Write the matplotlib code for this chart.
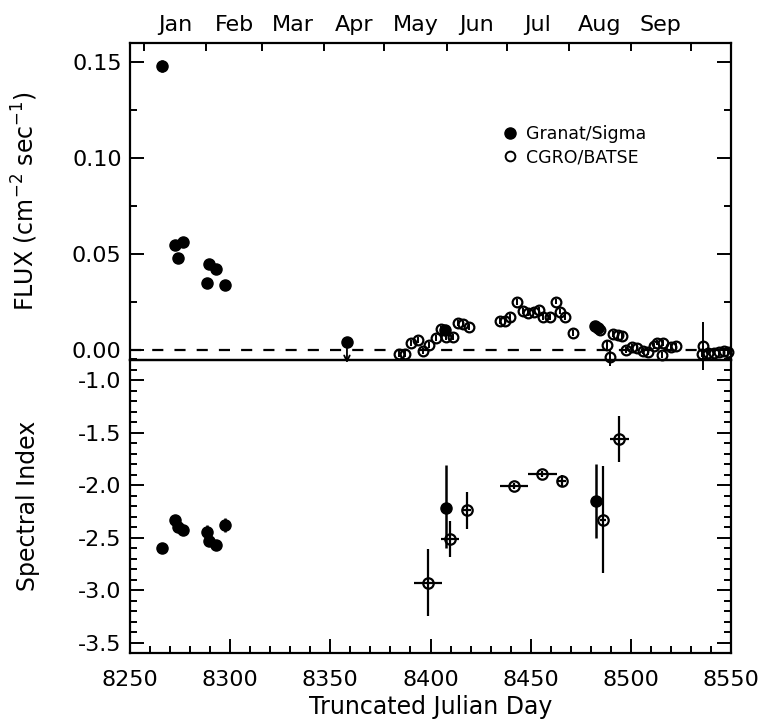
import matplotlib
matplotlib.use("Agg")
import matplotlib.pyplot as plt
from matplotlib.lines import Line2D
from matplotlib.ticker import (MultipleLocator, FormatStrFormatter, FixedLocator,
                               FixedFormatter, NullFormatter)

# ---------------- data ----------------
# Granat/Sigma flux (top panel)
granat_flux_day = [8265.8, 8272.5, 8273.8, 8276.6, 8288.3, 8289.6, 8292.8, 8297.4, 8407.0, 8482.3, 8483.6]
granat_flux = [0.148, 0.0547, 0.0478, 0.0561, 0.0350, 0.0448, 0.0422, 0.0339, 0.0105, 0.0125, 0.0113]
granat_flux_err = [0.003, 0.0015, 0.0015, 0.0015, 0.0015, 0.0015, 0.0015, 0.0015, 0.001, 0.001, 0.001]

# Granat upper limit (April)
ul_day = [8358.3]
ul_flux = [0.0042]

# CGRO/BATSE flux (top panel)
batse_flux_day = [8384.5, 8387.3, 8390.1, 8393.6, 8396.4, 8399.4, 8402.8, 8405.3, 8407.8, 8411.1,
                  8413.9, 8416.4, 8419.2, 8434.7, 8437.2, 8439.7, 8443.1, 8446.0, 8448.8, 8451.7,
                  8454.3, 8456.3, 8459.7, 8462.5, 8464.7, 8467.2, 8471.1, 8484.6, 8488.0, 8489.6,
                  8491.0, 8493.8, 8495.4, 8497.6, 8500.4, 8503.2, 8505.9, 8508.7, 8511.6, 8513.2,
                  8515.4, 8515.9, 8519.9, 8522.6, 8535.4, 8535.9, 8538.7, 8541.3, 8543.8, 8546.3,
                  8548.4]
batse_flux = [-0.0023, -0.0023, 0.0035, 0.0052, -0.0004, 0.0026, 0.0061, 0.0108, 0.0069, 0.0069,
              0.0142, 0.0135, 0.0121, 0.0151, 0.0151, 0.0174, 0.0248, 0.0203, 0.0191, 0.0200,
              0.0208, 0.0170, 0.0170, 0.0252, 0.0200, 0.0170, 0.0090, 0.0104, 0.0026, -0.0038,
              0.0083, 0.0078, 0.0073, 0.0000, 0.0014, 0.0009, -0.0005, -0.0009, 0.0021, 0.0038,
              -0.0026, 0.0035, 0.0014, 0.0021, -0.0022, 0.0021, -0.0014, -0.0014, -0.0009, -0.0004,
              -0.0009]
batse_flux_err = [0.0015, 0.0015, 0.0015, 0.0015, 0.0015, 0.0015, 0.0015, 0.0015, 0.0015, 0.0015,
                  0.0015, 0.0015, 0.0015, 0.0015, 0.0015, 0.0015, 0.0015, 0.0015, 0.0015, 0.0015,
                  0.0015, 0.0015, 0.0015, 0.0015, 0.0015, 0.0015, 0.0015, 0.0015, 0.0020, 0.0045,
                  0.0015, 0.0015, 0.0015, 0.0015, 0.0015, 0.0015, 0.0015, 0.0015, 0.0015, 0.0015,
                  0.0015, 0.0015, 0.0015, 0.0015, 0.0015, 0.0125, 0.0015, 0.0015, 0.0015, 0.0015,
                  0.0015]

# Granat/Sigma spectral index (bottom panel)
granat_idx_day = [8265.8, 8272.5, 8273.8, 8276.6, 8288.3, 8289.6, 8292.8, 8297.4, 8407.6, 8482.5]
granat_idx = [-2.60, -2.33, -2.40, -2.43, -2.45, -2.53, -2.57, -2.38, -2.22, -2.15]
granat_idx_err_lo = [0.05, 0.04, 0.04, 0.04, 0.07, 0.05, 0.05, 0.07, 0.38, 0.35]
granat_idx_err_hi = [0.05, 0.04, 0.04, 0.04, 0.07, 0.05, 0.05, 0.07, 0.41, 0.35]

# CGRO/BATSE spectral index (bottom panel)
batse_idx_day = [8398.6, 8409.8, 8418.0, 8441.7, 8455.9, 8465.7, 8486.3, 8494.3]
batse_idx = [-2.93, -2.51, -2.24, -2.01, -1.89, -1.96, -2.33, -1.56]
batse_idx_xerr = [7.0, 4.5, 2.0, 7.0, 7.0, 2.0, 1.5, 4.75]
batse_idx_err = [0.32, 0.17, 0.18, 0.03, 0.03, 0.06, 0.51, 0.22]

# month boundaries (TJD) and names for the top axis
month_starts = [8257, 8288, 8316, 8347, 8377, 8408, 8438, 8469, 8500, 8530]
month_names = ["Jan", "Feb", "Mar", "Apr", "May", "Jun", "Jul", "Aug", "Sep"]

# ---------------- figure ----------------
plt.rcParams['font.family'] = ['DejaVu Sans']
fig = plt.figure(figsize=(7.63, 7.23), dpi=100)
L, R = 130 / 763, 731 / 763
ytop, ymid, ybot = 1 - 43 / 723, 1 - 359.5 / 723, 1 - 653 / 723
ax1 = fig.add_axes([L, ymid, R - L, ytop - ymid])
ax2 = fig.add_axes([L, ybot, R - L, ymid - ybot])
ax2.patch.set_visible(False)

fs = 16
lfs = 17
for ax in (ax1, ax2):
    for s in ax.spines.values():
        s.set_linewidth(1.6)
    ax.tick_params(which='both', direction='in', left=True, right=True, width=1.4, labelsize=fs)
    ax.tick_params(which='major', length=10)
    ax.tick_params(which='minor', length=5)
    ax.tick_params(axis='y', which='both', pad=6)
    ax.set_xlim(8250, 8550)

# ---- top panel ----
ax1.set_ylim(-0.005, 0.16)
ax1.axhline(0, color='k', ls=(0, (5, 5)), lw=1.6, zorder=1)
ax1.errorbar(granat_flux_day, granat_flux, yerr=granat_flux_err, fmt='o', color='k',
             ms=8, capsize=0, elinewidth=1.8, zorder=4)
eb = ax1.errorbar(batse_flux_day, batse_flux, yerr=batse_flux_err, fmt='o', color='k', mfc='none',
                  ms=7, mew=1.6, capsize=0, elinewidth=1.4, zorder=3)
for art in eb.lines[2]:
    art.set_clip_on(False)
eb.lines[0].set_clip_on(False)
ax1.plot(ul_day, ul_flux, 'o', color='k', ms=8, zorder=4)
for d, f in zip(ul_day, ul_flux):
    ax1.annotate('', xy=(d, f - 0.0125), xytext=(d, f),
                 arrowprops=dict(arrowstyle='->', color='k', lw=1.3, mutation_scale=10),
                 annotation_clip=False)

ax1.yaxis.set_major_locator(MultipleLocator(0.05))
ax1.yaxis.set_minor_locator(MultipleLocator(0.025))
ax1.yaxis.set_major_formatter(FormatStrFormatter('%.2f'))
ax1.set_ylabel(r'FLUX (cm$^{-2}$ sec$^{-1}$)', fontsize=lfs)
ax1.yaxis.set_label_coords(-0.15, 0.5)

mid = [(a + b) / 2 for a, b in zip(month_starts[:-1], month_starts[1:])]
ax1.xaxis.set_major_locator(FixedLocator(month_starts))
ax1.xaxis.set_minor_locator(FixedLocator(mid))
ax1.xaxis.set_minor_formatter(FixedFormatter(month_names))
ax1.xaxis.set_major_formatter(NullFormatter())
ax1.tick_params(axis='x', which='both', bottom=False, top=True, labelbottom=False, labeltop=True)
ax1.tick_params(axis='x', which='major', length=6)
ax1.tick_params(axis='x', which='minor', length=0, pad=6)

h1 = Line2D([], [], marker='o', ls='none', color='k', ms=8)
h2 = Line2D([], [], marker='o', ls='none', color='k', mfc='none', ms=7, mew=1.4)
ax1.legend([h1, h2], ['Granat/Sigma', 'CGRO/BATSE'], loc='upper left',
           bbox_to_anchor=(0.607, 0.768), frameon=False, fontsize=12.5,
           handlelength=0.8, handletextpad=0.5, labelspacing=0.3, borderpad=0)

# ---- bottom panel ----
ax2.set_ylim(-3.6, -0.8)
ax2.errorbar(granat_idx_day, granat_idx, yerr=[granat_idx_err_lo, granat_idx_err_hi], fmt='o',
             color='k', ms=8, capsize=0, elinewidth=1.8, zorder=4)
ax2.errorbar(batse_idx_day, batse_idx, xerr=batse_idx_xerr, yerr=batse_idx_err, fmt='o',
             color='k', mfc='none', ms=7.5, mew=1.6, capsize=0, elinewidth=1.6, zorder=3)
ax2.yaxis.set_major_locator(FixedLocator([-1.0, -1.5, -2.0, -2.5, -3.0, -3.5]))
ax2.yaxis.set_minor_locator(MultipleLocator(0.1))
ax2.yaxis.set_major_formatter(FormatStrFormatter('%.1f'))
ax2.set_ylabel('Spectral Index', fontsize=lfs)
ax2.yaxis.set_label_coords(-0.15, 0.5)
ax2.xaxis.set_major_locator(MultipleLocator(50))
ax2.xaxis.set_minor_locator(MultipleLocator(10))
ax2.xaxis.set_major_formatter(FormatStrFormatter('%d'))
ax2.tick_params(axis='x', which='both', bottom=True, top=False, labelbottom=True, pad=12)
ax2.set_xlabel('Truncated Julian Day', fontsize=lfs, labelpad=4)

fig.savefig('out.png', dpi=100)
